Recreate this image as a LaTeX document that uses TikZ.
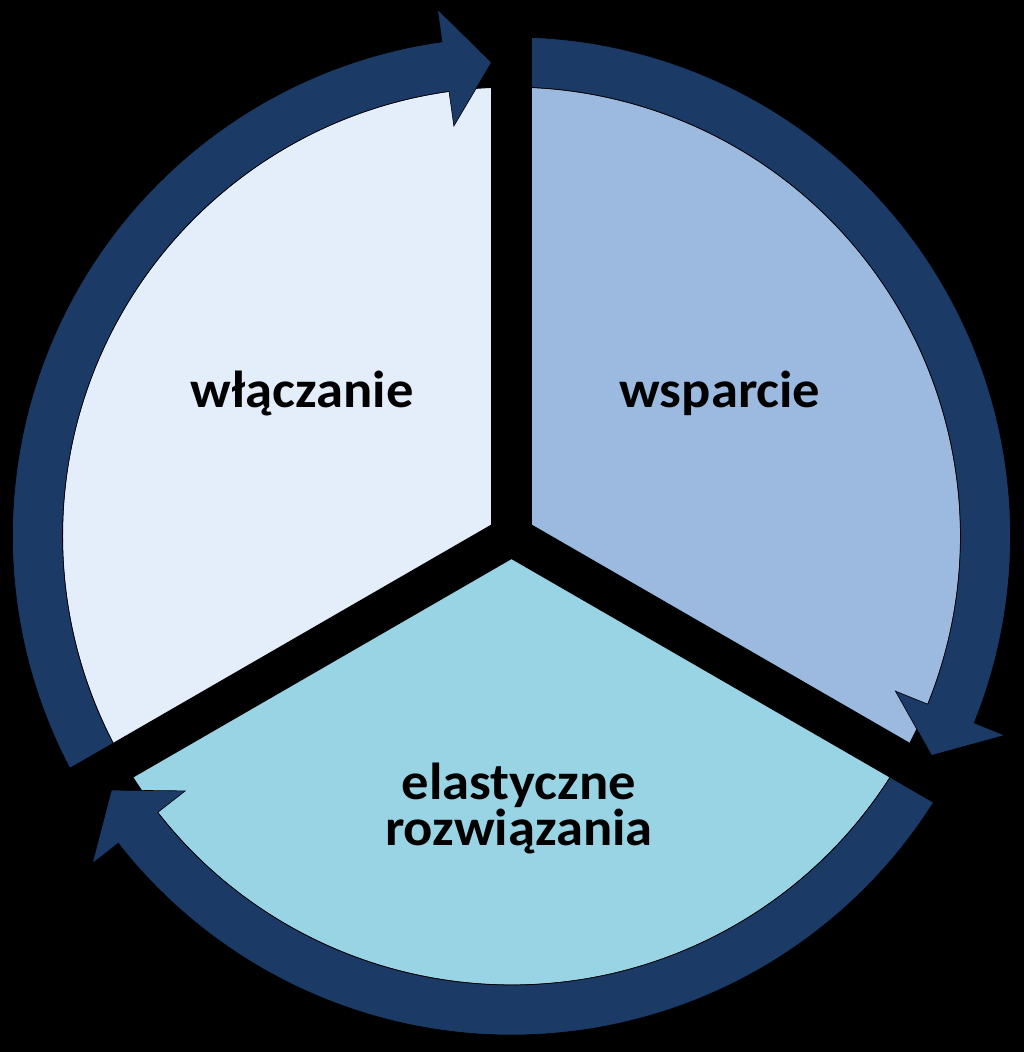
\documentclass[tikz,border=0pt]{standalone}
\usepackage{fontspec}
\setmainfont{Carlito}
\newfontfamily\lblfont[FakeStretch=1.05]{Carlito}
\definecolor{ringc}{RGB}{28,58,102}
\definecolor{secA}{RGB}{228,238,250}
\definecolor{secB}{RGB}{156,186,223}
\definecolor{secC}{RGB}{153,212,229}
\tikzset{
  sector/.style={draw=black, line width=1pt},
  ringarrow/.style={fill=ringc, draw=black, line width=0.6pt},
  gapbar/.style={fill=black},
  lbl/.style={font=\lblfont\bfseries\fontsize{52}{46}\selectfont, text=black, align=center, inner sep=0pt}
}
\begin{document}
\begin{tikzpicture}[x=1pt,y=1pt]
\fill[black] (-511.5,-516) rectangle (512.5,536);
\useasboundingbox (-511.5,-516) rectangle (512.5,536);
% sectors
\path[sector, fill=secA] (0,0) -- (90:449) arc[start angle=90, end angle=210, radius=449] -- cycle;
\path[sector, fill=secB] (0,0) -- (-30:449) arc[start angle=-30, end angle=90, radius=449] -- cycle;
\path[sector, fill=secC] (0,0) -- (210:449) arc[start angle=210, end angle=330, radius=449] -- cycle;
% circular arrows
\foreach \r in {0,-120,-240}{
  \path[ringarrow, rotate=\r] (210:499) arc[start angle=210, end angle=98, radius=499]
    -- (98:532) -- (92.42:474) -- (98:414) -- (98:449)
    arc[start angle=98, end angle=210, radius=449] -- cycle;
}
% gaps
\foreach \a in {90,210,330}{
  \fill[gapbar, rotate=\a] (0,-20) rectangle (520,20);
}
% labels
\node[lbl, anchor=base] (t1) at (-209.5,128) {włączanie};
\node[lbl, anchor=base] (t2) at (208.5,128) {wsparcie};
\node[lbl, anchor=base] (t3) at (7.5,-309) {elastyczne\\rozwiązania};
\end{tikzpicture}
\end{document}
